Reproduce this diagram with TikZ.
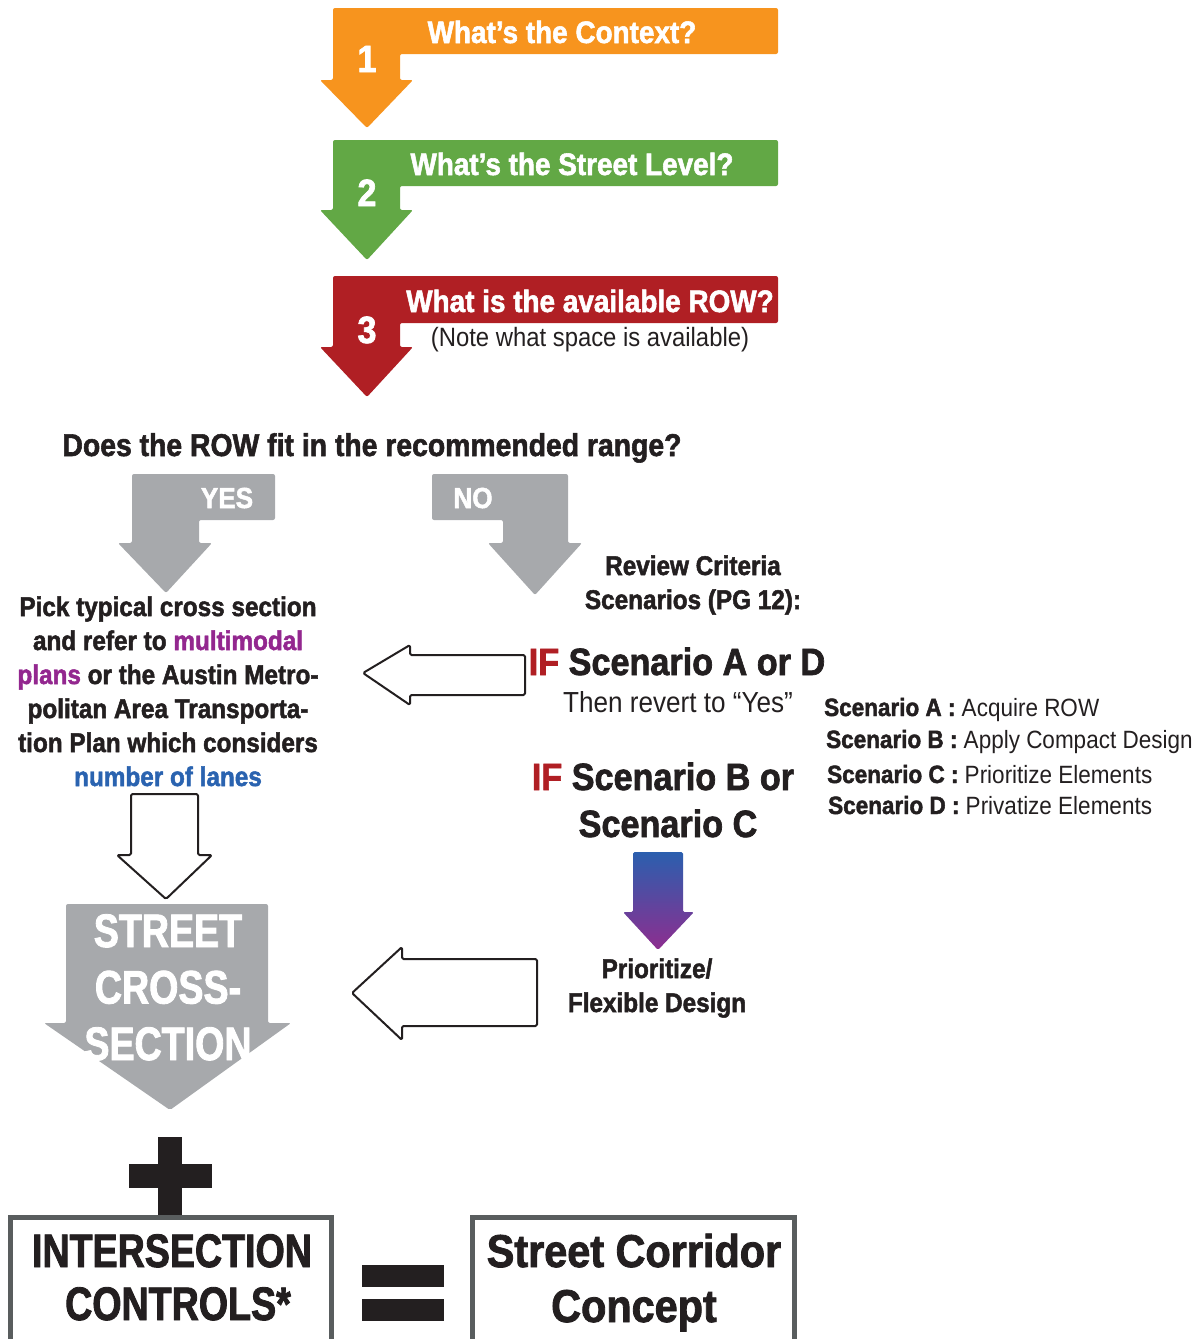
\documentclass[tikz,border=0pt]{standalone}
\usepackage{fontspec}
\setmainfont{Liberation Sans}[FakeStretch=0.9, BoldFeatures={FakeBold=1.8}]
\newfontfamily\narrowfont{Liberation Sans}[FakeStretch=0.8, BoldFeatures={FakeBold=1.8}]
\definecolor{corange}{HTML}{F7941E}
\definecolor{cgreen}{HTML}{62A845}
\definecolor{cred}{HTML}{B01F24}
\definecolor{cgray}{HTML}{A7A9AC}
\definecolor{ctext}{HTML}{231F20}
\definecolor{cpurple}{HTML}{93278F}
\definecolor{cblue}{HTML}{2A63B0}
\definecolor{gtop}{HTML}{2B5FAE}
\definecolor{gbot}{HTML}{8E2D8F}
\definecolor{cbox}{HTML}{595D5E}
\newcommand\fsz[2]{\fontsize{#1}{#2}\selectfont}
\tikzset{
  bigarrow/.style={fill=#1, draw=none, rounded corners=2pt},
  hollow/.style={draw=ctext, line width=2pt, fill=white, line join=round, rounded corners=1.5pt, solid},
  txt/.style={inner sep=0pt, text=ctext, font=\bfseries},
  wtxt/.style={inner sep=0pt, text=white, font=\bfseries},
  rtxt/.style={inner sep=0pt, text=ctext, font=\mdseries},
  framebox/.style={draw=cbox, line width=5pt, fill=white},
}
\begin{document}
\begin{tikzpicture}[x=1pt,y=-1pt]
\useasboundingbox (0,0) rectangle (1203,1339);
% ---------- shapes ----------
\path[bigarrow=corange] (333,8)--(778,8)--(778,54)--(400,54)--(400,80)--(413,80)--(367,128)--(320,80)--(333,80)--cycle;
\path[bigarrow=cgreen] (333,140)--(778,140)--(778,186)--(400,186)--(400,210)--(413,210)--(367,260)--(320,210)--(333,210)--cycle;
\path[bigarrow=cred] (333,276)--(778,276)--(778,323)--(400,323)--(400,347)--(413,347)--(367,397)--(320,347)--(333,347)--cycle;
\path[bigarrow=cgray] (132,474)--(275,474)--(275,520)--(199,520)--(199,543)--(212,543)--(166,593)--(118,543)--(132,543)--cycle;
\path[bigarrow=cgray] (432,474)--(568,474)--(568,543)--(582,543)--(535,595)--(488,543)--(503,543)--(503,520)--(432,520)--cycle;
\path[hollow] (525,655)--(525,695)--(410,695)--(410,705)--(363,673)--(410,645)--(410,655)--cycle;
\path[hollow] (131,794)--(198,794)--(198,855)--(212,855)--(166,899)--(117,855)--(131,855)--cycle;
\path[hollow] (537,959)--(537,1026)--(402,1026)--(402,1040)--(352,993)--(402,947)--(402,959)--cycle;
\path[top color=gtop, bottom color=gbot, draw=none, rounded corners=1.5pt] (633,852)--(683,852)--(683,912)--(694,912)--(658,950)--(623,912)--(633,912)--cycle;
\path[bigarrow=cgray] (66,904)--(268,904)--(268,1023)--(291,1023)--(170,1110)--(44,1023)--(66,1023)--cycle;
\fill[ctext] (158,1137) rectangle (182,1217);
\fill[ctext] (129,1164) rectangle (212,1188);
\fill[ctext] (362,1265) rectangle (444,1287);
\fill[ctext] (362,1299) rectangle (444,1321);
\path[framebox] (10.5,1217.5) rectangle (331.5,1360);
\path[framebox] (472.5,1217.5) rectangle (794.5,1360);
% ---------- texts ----------
\node[wtxt, anchor=base, font=\bfseries\fsz{31}{31}] (q1) at (562,43) {What’s the Context?};
\node[wtxt, anchor=base, font=\bfseries\fsz{38}{38}] (n1) at (367,72) {1};
\node[wtxt, anchor=base, font=\bfseries\fsz{31}{31}] (q2) at (572,175) {What’s the Street Level?};
\node[wtxt, anchor=base, font=\bfseries\fsz{38}{38}] (n2) at (367,206) {2};
\node[wtxt, anchor=base, font=\bfseries\fsz{31}{31}] (q3) at (590,312) {What is the available ROW?};
\node[wtxt, anchor=base, font=\bfseries\fsz{38}{38}] (n3) at (367,343) {3};
\node[rtxt, anchor=base, font=\mdseries\fsz{26.5}{26.5}] (note) at (590,346) {(Note what space is available)};
\node[txt, anchor=base, font=\bfseries\fsz{31.5}{31.5}] (fit) at (372,456) {Does the ROW fit in the recommended range?};
\node[wtxt, anchor=base, font=\bfseries\fsz{29}{29}] (yes) at (227,508) {YES};
\node[wtxt, anchor=base, font=\bfseries\fsz{29}{29}] (no) at (473,508) {NO};
\node[txt, anchor=base, align=center, font=\bfseries\fsz{27}{34}] (review) at (693,609) {Review Criteria\\Scenarios (PG 12):};
\node[txt, anchor=base, align=center, font=\bfseries\fsz{27}{34}] (pick) at (168,786) {Pick typical cross section\\
and refer to \textcolor{cpurple}{multimodal}\\
\textcolor{cpurple}{plans} or the Austin Metro-\\
politan Area Transporta-\\
tion Plan which considers\\
\textcolor{cblue}{number of lanes}};
\node[txt, anchor=base, font=\bfseries\fsz{38}{38}] (ifad) at (677,675) {\textcolor{cred}{IF} Scenario A or D};
\node[rtxt, anchor=base, font=\mdseries\fsz{29}{29}] (revert) at (678,712) {Then revert to “Yes”};
\node[txt, anchor=base, font=\bfseries\fsz{38}{38}] (ifbc) at (663,790) {\textcolor{cred}{IF} Scenario B or};
\node[txt, anchor=base, font=\bfseries\fsz{38}{38}] (scc) at (668,837) {Scenario C};
\node[txt, anchor=base west, font=\bfseries\fsz{25}{25}] (sa) at (824,716) {Scenario A : {\mdseries Acquire ROW}};
\node[txt, anchor=base west, font=\bfseries\fsz{25}{25}] (sb) at (826,748) {Scenario B : {\mdseries Apply Compact Design}};
\node[txt, anchor=base west, font=\bfseries\fsz{25}{25}] (sc) at (827,783) {Scenario C : {\mdseries Prioritize Elements}};
\node[txt, anchor=base west, font=\bfseries\fsz{25}{25}] (sd) at (828,814) {Scenario D : {\mdseries Privatize Elements}};
\node[txt, anchor=base, align=center, font=\bfseries\fsz{27}{34}] (prio) at (657,1012) {Prioritize/\\Flexible Design};
\node[wtxt, anchor=base, align=center, font=\narrowfont\bfseries\fsz{47}{56.5}] (street) at (168,1060) {STREET\\CROSS-\\SECTION};
\node[txt, anchor=base, font=\narrowfont\bfseries\fsz{47}{47}] (inter) at (172,1267) {INTERSECTION};
\node[txt, anchor=base, font=\narrowfont\bfseries\fsz{47}{47}] (ctrl) at (178,1320) {CONTROLS*};
\node[txt, anchor=base, align=center, font=\bfseries\fsz{46}{55}] (corr) at (634,1322) {Street Corridor\\Concept};
\end{tikzpicture}
\end{document}
